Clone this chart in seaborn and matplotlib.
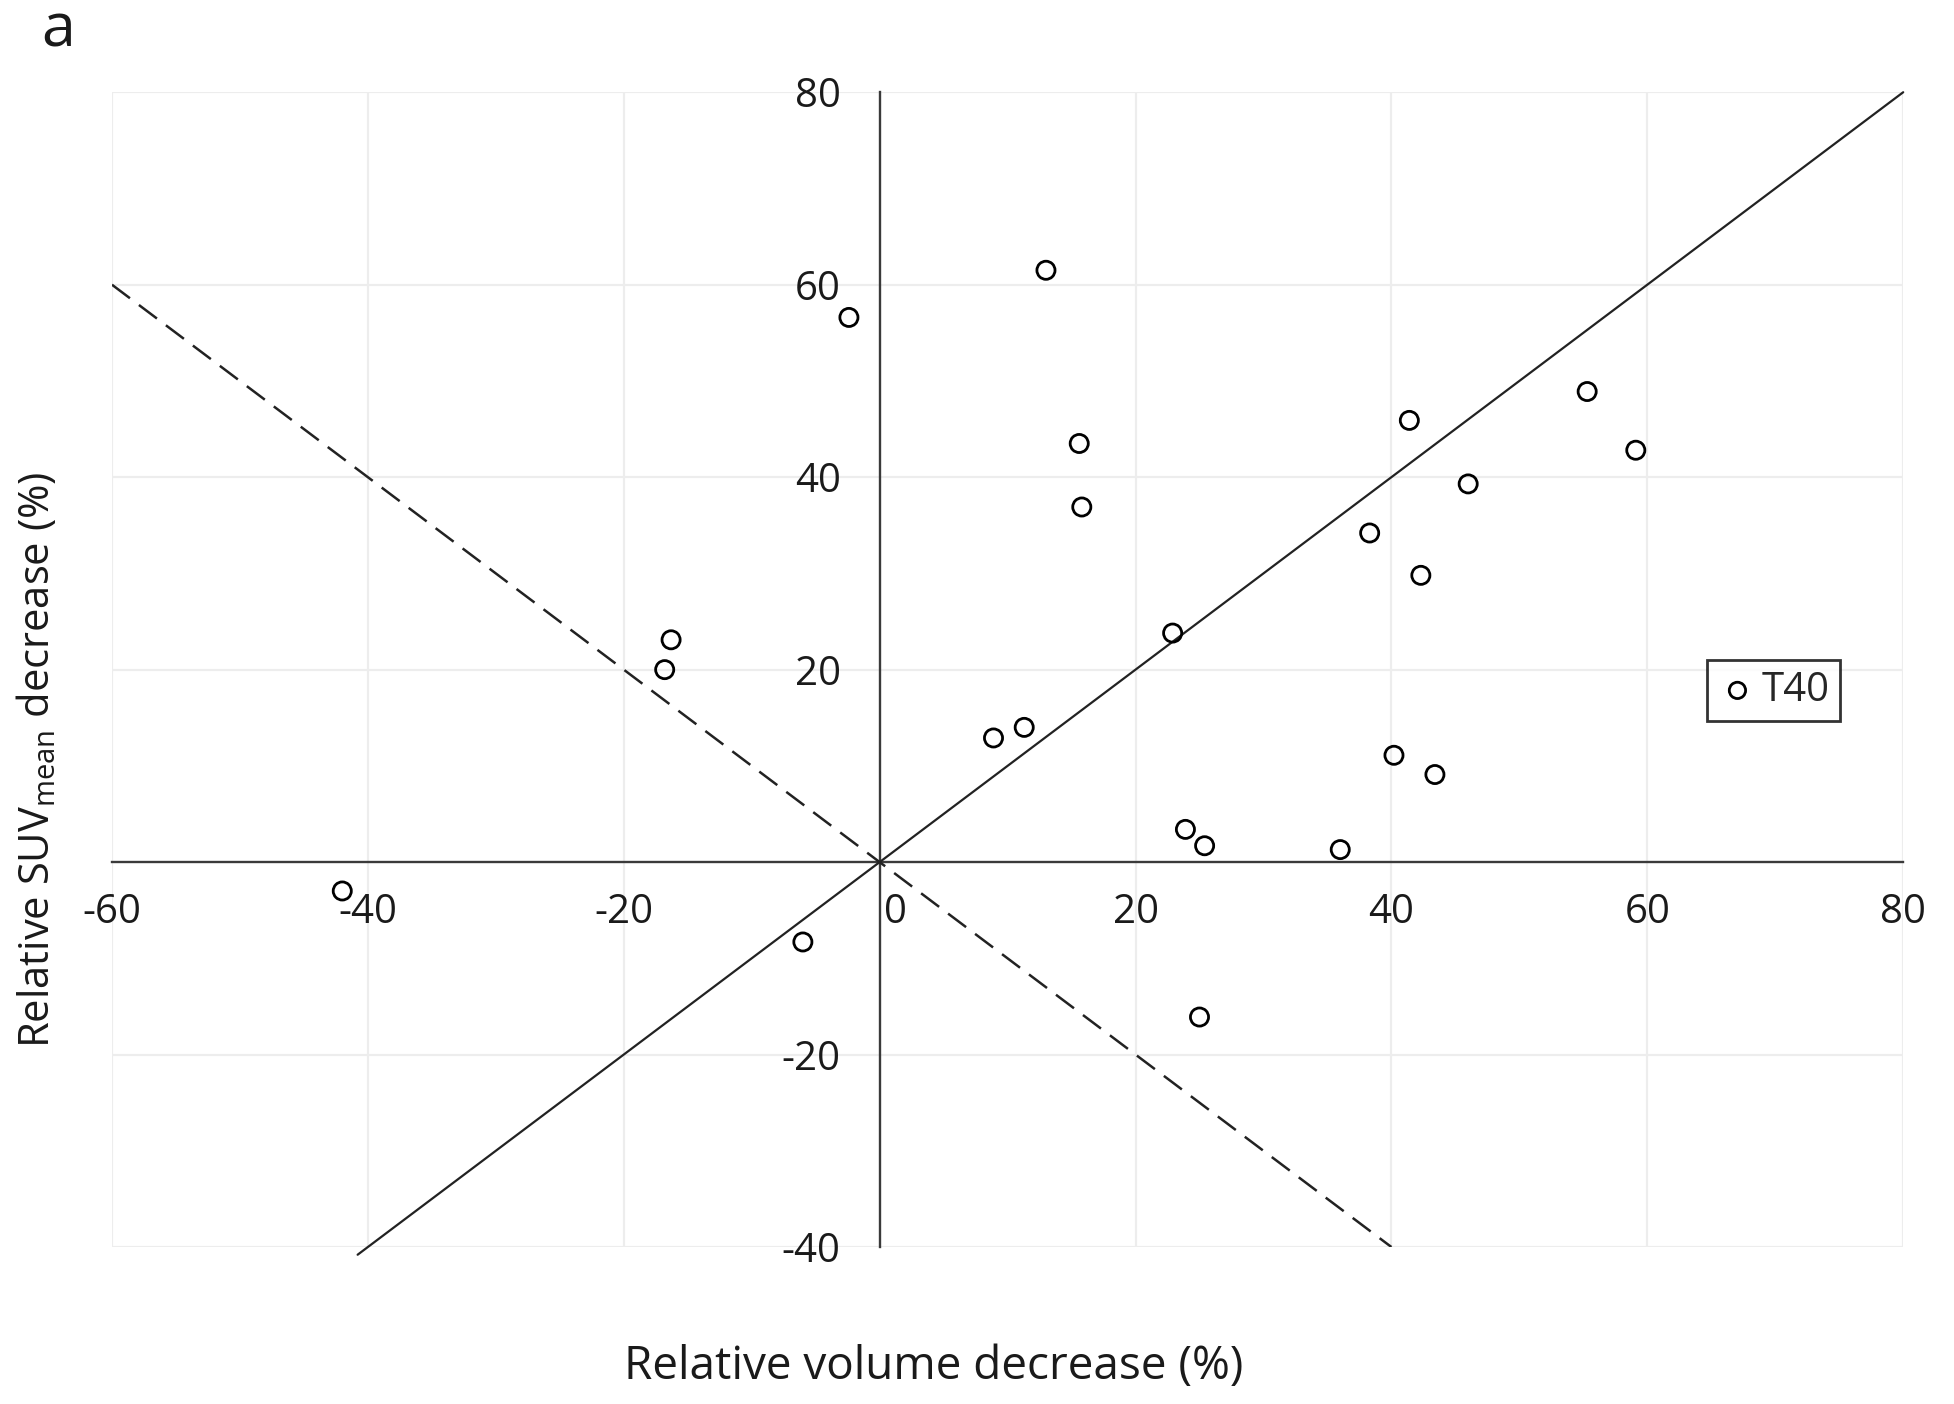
import numpy as np
import pandas as pd
import matplotlib
matplotlib.use("Agg")
import matplotlib.pyplot as plt
import matplotlib.transforms as mtransforms
import seaborn as sns

# relative volume decrease (%) vs relative SUVmean decrease (%), T40
vol_decrease = [13.0, -2.4, 15.6, 15.8, 22.9, 8.9, 11.3, -16.3, -16.8, -42.0, -6.0,
                25.0, 23.9, 25.4, 36.0, 40.2, 43.4, 38.3, 42.3, 41.4, 46.0, 55.3, 59.1]
suv_decrease = [61.5, 56.6, 43.5, 36.9, 23.8, 12.9, 14.0, 23.1, 20.0, -3.0, -8.3,
                -16.1, 3.4, 1.7, 1.3, 11.1, 9.1, 34.2, 29.8, 45.9, 39.3, 48.9, 42.8]

x_ticks = [-60, -40, -20, 0, 20, 40, 60, 80]
y_ticks = [-40, -20, 20, 40, 60, 80]

# reference lines
identity_x = [-40.8, 80]
identity_y = [-40.8, 80]
opposite_x = [-60, 40]
opposite_y = [60, -40]

df = pd.DataFrame({"vol": vol_decrease, "suv": suv_decrease})

sns.set_theme(style="white")
plt.rcParams["font.family"] = ["Open Sans", "DejaVu Sans"]
plt.rcParams["mathtext.fontset"] = "custom"
plt.rcParams["mathtext.rm"] = "Open Sans"
plt.rcParams["mathtext.it"] = "Open Sans"

fig = plt.figure(figsize=(19.54, 14.04), dpi=100)
ax = fig.add_axes([0.0573, 0.1118, 0.9167, 0.8225])

ax.set_xlim(-60, 80)
ax.set_ylim(-40, 80)

# light grid
for gx in x_ticks:
    if gx != 0:
        ax.axvline(gx, color="#ededed", lw=1.6, zorder=0)
for gy in y_ticks:
    ax.axhline(gy, color="#ededed", lw=1.6, zorder=0)

# axes crossing at the origin
for side in ["top", "right"]:
    ax.spines[side].set_visible(False)
ax.spines["bottom"].set_position(("data", 0))
ax.spines["left"].set_position(("data", 0))
for side in ["bottom", "left"]:
    ax.spines[side].set_color("#3a3a3a")
    ax.spines[side].set_linewidth(1.7)
    ax.spines[side].set_zorder(1)

ax.plot(identity_x, identity_y, color="#222222", lw=1.6, zorder=2, clip_on=False)
ax.plot(opposite_x, opposite_y, color="#222222", lw=1.8, ls=(0, (9, 4.5)), zorder=2)

sns.scatterplot(data=df, x="vol", y="suv", ax=ax, marker="o", s=170,
                facecolors="none", edgecolor="black", linewidth=2.0,
                label="T40", zorder=3)

ax.set_xticks(x_ticks)
ax.set_xticklabels([str(v) for v in x_ticks], fontsize=29, color="#1a1a1a")
ax.set_yticks(y_ticks)
ax.set_yticklabels([str(v) for v in y_ticks], fontsize=29, color="#1a1a1a")
ax.tick_params(axis="x", length=0, pad=22)
ax.tick_params(axis="y", length=0, pad=28)

for lab in ax.get_xticklabels():
    if lab.get_text() == "0":
        lab.set_transform(lab.get_transform() +
                          mtransforms.ScaledTranslation(0.16, 0, fig.dpi_scale_trans))

ax.set_xlabel("")
ax.set_ylabel("")
fig.text(0.478, 0.026, "Relative volume decrease (%)", fontsize=33,
         ha="center", va="center", color="#1a1a1a")
fig.text(0.019, 0.459, r"Relative SUV$_{\mathrm{mean}}$ decrease (%)", fontsize=30,
         ha="center", va="center", rotation=90, color="#1a1a1a")
fig.text(0.021, 0.978, "a", fontsize=44, ha="left", va="center", color="#1a1a1a")

leg = ax.legend(loc="upper left", bbox_to_anchor=(0.8906, 0.508), fontsize=29,
                frameon=True, fancybox=False, handletextpad=0.1, borderaxespad=0,
                borderpad=0.25, handlelength=1.0, markerscale=0.9)
leg.get_frame().set_edgecolor("black")
leg.get_frame().set_linewidth(2.0)

fig.savefig("out.png", dpi=100, facecolor="white")
